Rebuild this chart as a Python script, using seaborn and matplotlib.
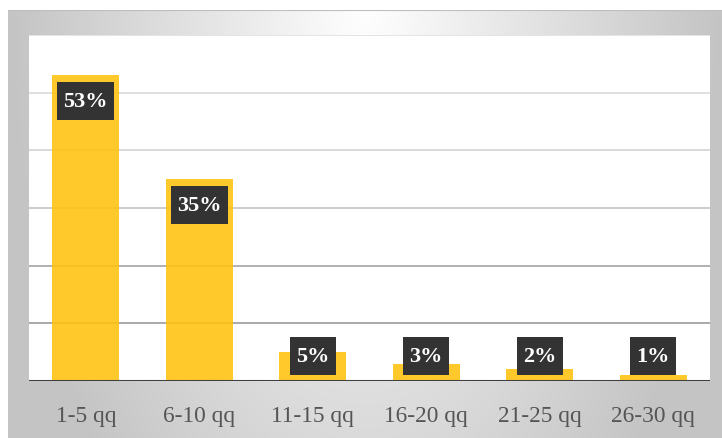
import numpy as np
import pandas as pd
import matplotlib
matplotlib.use("Agg")
import matplotlib.pyplot as plt
from matplotlib.path import Path
import seaborn as sns

# Share of producers by harvest size class
categories = ["1-5 qq", "6-10 qq", "11-15 qq", "16-20 qq", "21-25 qq", "26-30 qq"]
shares = [0.53, 0.35, 0.05, 0.03, 0.02, 0.01]
labels = ["53%", "35%", "5%", "3%", "2%", "1%"]

df = pd.DataFrame({"rango": categories, "share": shares})

sns.set_theme(style="white")
plt.rcParams["font.family"] = ["Liberation Serif", "DejaVu Serif"]

W, H, DPI = 722, 439, 100
fig = plt.figure(figsize=(W / DPI, H / DPI), dpi=DPI)
fig.patch.set_facecolor("white")

# Soft grey panel behind the plot, brightest near the top centre
px0, py0 = 8, 11
bg = fig.add_axes([px0 / W, 0, 1 - px0 / W, (H - py0) / H], zorder=0)
gx = np.linspace(px0, W, 400)
gy = np.linspace(py0, H, 260)
X, Y = np.meshgrid(gx, gy)
r = np.sqrt(((X - 365) / 355) ** 2 + (Y / 700) ** 2)
shade = 1 - 0.23 * np.clip(r, 0, 1)
bg.imshow(np.dstack([shade] * 3), aspect="auto", extent=[0, 1, 0, 1], origin="upper")
bg.axhline(1, color="#bdbdbd", lw=1.5)
bg.set_axis_off()

# Plot area
left, right, top, bottom = 29, 710, 36, 382
ax = fig.add_axes([left / W, 1 - bottom / H, (right - left) / W, (bottom - top) / H], zorder=1)
ax.set_facecolor("white")

sns.barplot(data=df, x="rango", y="share", color="#FFC20E", width=0.59,
            saturation=1, ax=ax, zorder=3)
for p in ax.patches:
    p.set_alpha(0.88)
    p.set_edgecolor("none")

ax.set_ylim(0, 0.6)
ax.set_xlim(-0.5, len(categories) - 0.5)

grid_levels = [0.1, 0.2, 0.3, 0.4, 0.5, 0.6]
grid_colors = ["#a2a2a2", "#aaaaaa", "#c8c8c8", "#d6d6d6", "#dcdcdc", "#e2e2e2"]
for lvl, col in zip(grid_levels, grid_colors):
    ax.axhline(lvl, color=col, lw=1.3, zorder=1)
ax.axhline(0, color="#3f3f3f", lw=2.2, zorder=5)

for s in ax.spines.values():
    s.set_visible(False)
ax.set_yticks([])
ax.set_xlabel("")
ax.set_ylabel("")
ax.tick_params(axis="x", length=0, pad=17, labelsize=16.8, labelcolor="#555555")


def label_box(x0, y0, width, height, mutation_size):
    """Rectangle with more vertical than horizontal padding."""
    padx, pady = 0.29 * mutation_size, 0.40 * mutation_size
    x0, y0 = x0 - padx, y0 - pady
    x1, y1 = x0 + width + 2 * padx, y0 + height + 2 * pady
    return Path([(x0, y0), (x1, y0), (x1, y1), (x0, y1), (x0, y0)], closed=True)


# Value labels: near the top inside tall bars, just above the base for short ones
px_per_unit = (bottom - top) / 0.6
label_y = np.maximum(np.array(shares) - 25.5 / px_per_unit, 25 / px_per_unit)
for i, (ly, txt) in enumerate(zip(label_y, labels)):
    ax.text(i, ly, txt, ha="center", va="center", color="white", fontsize=16,
            fontweight="bold", zorder=6,
            bbox=dict(boxstyle=label_box, fc="#333333", ec="none"))

fig.savefig("out.png", dpi=DPI)
